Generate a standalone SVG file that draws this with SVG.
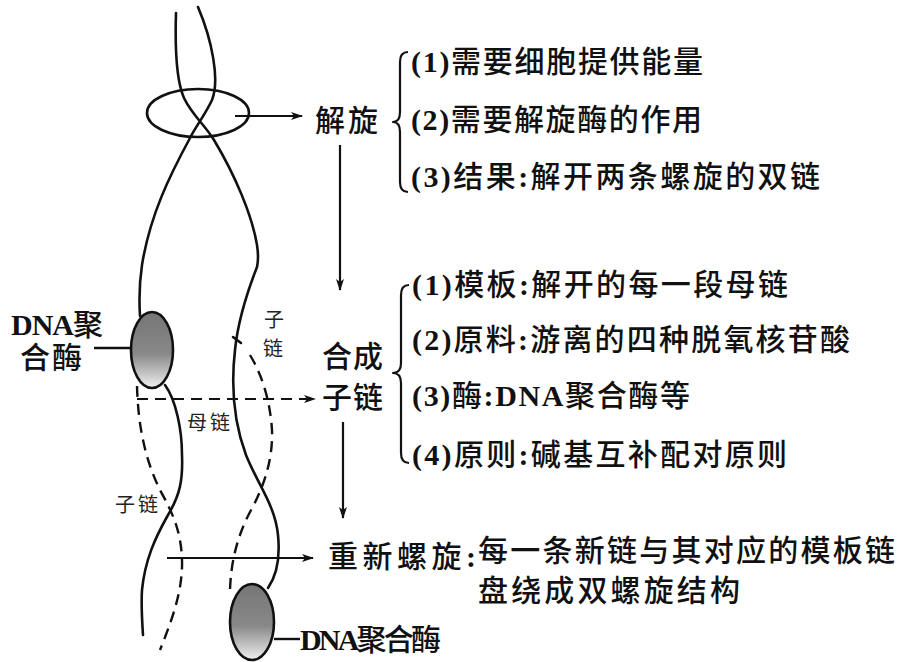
<svg xmlns="http://www.w3.org/2000/svg" width="902" height="662" viewBox="0 0 902 662">
  <defs>
    <linearGradient id="enzymeFill" x1="0" y1="0" x2="0" y2="1">
      <stop offset="0" stop-color="#767676"/>
      <stop offset="0.55" stop-color="#888888"/>
      <stop offset="1" stop-color="#f0f0f0"/>
    </linearGradient>
    <marker id="arrowHead" viewBox="0 0 12 8" refX="11" refY="4" markerWidth="12" markerHeight="8" markerUnits="userSpaceOnUse" orient="auto">
      <path d="M0,0 L12,4 L0,8 L3,4 z" fill="#111"/>
    </marker>
    <style>
      .strand { fill: none; stroke: #111; stroke-width: 2.6; stroke-linecap: round; }
      .daughter { fill: none; stroke: #111; stroke-width: 2.4; stroke-dasharray: 11 7; }
      .conn { fill: none; stroke: #111; stroke-width: 2.2; }
      .dashconn { fill: none; stroke: #111; stroke-width: 2.2; stroke-dasharray: 11 7; }
      .brace { fill: none; stroke: #111; stroke-width: 2.2; stroke-linejoin: round; }
      .enzyme { fill: url(#enzymeFill); stroke: #111; stroke-width: 2.6; }
      .t { font-family: "Liberation Serif", "Noto Sans CJK SC", serif; font-size: 30px; font-weight: 500; fill: #111; }
      .lat { font-weight: 700; }
      .small { font-family: "Noto Sans CJK SC", sans-serif; font-size: 20px; font-weight: 400; fill: #222; }
    </style>
  </defs>

  <!-- DNA strands -->
  <g id="helix">
    <!-- parental strand that ends at the upper polymerase -->
    <path class="strand" d="M198,7 C212,40 220,80 212,100 C205,115 196,126 190,138 C170,175 150,215 142,265 C139,285 139,300 140,316"/>
    <!-- same strand continuing below the upper polymerase -->
    <path class="strand" d="M165,385 C176,400 182,430 182,455 C183,480 180,495 168,515 C155,538 145,560 142,590 C141,605 142,620 143,635"/>
    <!-- parental strand that ends at the lower polymerase -->
    <path class="strand" d="M176,13 C175,45 176,80 184,98 C192,115 205,125 214,140 C235,175 252,215 257,245 C259,258 258,262 257,267 C248,290 238,320 235,350 C231,385 233,420 246,455 C258,485 275,505 278,535 C280,555 277,575 268,588"/>
    <!-- daughter strands -->
    <path class="daughter" d="M137,386 C138,420 143,455 160,490 C172,512 181,530 182,560 C183,590 172,620 160,650"/>
    <path class="daughter" d="M250,355 C262,375 270,400 272,430 C273,458 265,485 250,512 C238,535 231,560 230,590"/>
    <!-- start mark of the right daughter strand -->
    <path class="strand" d="M233,337 L241,343"/>
  </g>

  <!-- unwinding zone -->
  <g id="unwind-zone">
    <ellipse cx="198" cy="113" rx="51" ry="24" fill="none" stroke="#111" stroke-width="2.6"/>
  </g>

  <!-- DNA polymerase, upper -->
  <g id="polymerase-upper">
    <ellipse class="enzyme" cx="152" cy="350" rx="21" ry="38"/>
    <line x1="94" y1="348" x2="131" y2="348" stroke="#111" stroke-width="2.4"/>
    <text class="t" x="11" y="335" textLength="92" font-size="28"><tspan class="lat">DNA</tspan>聚</text>
    <text class="t" x="20" y="368" textLength="62" font-size="29">合酶</text>
  </g>

  <!-- DNA polymerase, lower -->
  <g id="polymerase-lower">
    <ellipse class="enzyme" cx="252" cy="622" rx="22" ry="38"/>
    <line x1="274" y1="639" x2="300" y2="639" stroke="#111" stroke-width="2.4"/>
    <text class="t" x="300" y="650" textLength="141" font-size="28"><tspan class="lat">DNA</tspan>聚合酶</text>
  </g>

  <!-- strand labels -->
  <g id="strand-labels">
    <text class="small" x="264" y="327">子</text>
    <text class="small" x="263" y="356">链</text>
    <text class="small" x="187" y="430" textLength="43">母链</text>
    <text class="small" x="115" y="512" textLength="43">子链</text>
  </g>

  <!-- unwinding -->
  <g id="unwinding">
    <text class="t" x="315" y="131" textLength="63">解旋</text>
    <path class="brace" d="M408,52 Q400,52 400,62 L400,112 Q400,122 393,122 Q400,122 400,132 L400,182 Q400,192 408,192"/>
    <text class="t" x="411" y="72" textLength="292"><tspan class="lat">(1)</tspan>需要细胞提供能量</text>
    <text class="t" x="411" y="130" textLength="291"><tspan class="lat">(2)</tspan>需要解旋酶的作用</text>
    <text class="t" x="411" y="187" textLength="409"><tspan class="lat">(3)</tspan>结果<tspan class="lat">:</tspan>解开两条螺旋的双链</text>
  </g>

  <!-- synthesis of daughter strands -->
  <g id="synthesis">
    <text class="t" x="322" y="367" textLength="61">合成</text>
    <text class="t" x="322" y="408" textLength="61">子链</text>
    <path class="brace" d="M409,285 Q401,285 401,295 L401,363 Q401,373 393,373 Q401,373 401,383 L401,453 Q401,463 409,463"/>
    <text class="t" x="412" y="295" textLength="376"><tspan class="lat">(1)</tspan>模板<tspan class="lat">:</tspan>解开的每一段母链</text>
    <text class="t" x="412" y="350" textLength="438"><tspan class="lat">(2)</tspan>原料<tspan class="lat">:</tspan>游离的四种脱氧核苷酸</text>
    <text class="t" x="412" y="406" textLength="278"><tspan class="lat">(3)</tspan>酶<tspan class="lat">:DNA</tspan>聚合酶等</text>
    <text class="t" x="412" y="465" textLength="375"><tspan class="lat">(4)</tspan>原则<tspan class="lat">:</tspan>碱基互补配对原则</text>
  </g>

  <!-- rewinding -->
  <g id="rewinding">
    <text class="t" x="328" y="567" textLength="148">重新螺旋<tspan class="lat">:</tspan></text>
    <text class="t" x="478" y="561" textLength="417">每一条新链与其对应的模板链</text>
    <text class="t" x="478" y="601" textLength="262">盘绕成双螺旋结构</text>
  </g>

  <!-- connectors -->
  <g id="connectors">
    <line class="conn" x1="235" y1="116" x2="302" y2="116" marker-end="url(#arrowHead)"/>
    <line class="conn" x1="340" y1="145" x2="340" y2="290" marker-end="url(#arrowHead)"/>
    <line class="dashconn" x1="137" y1="399" x2="315" y2="399" marker-end="url(#arrowHead)"/>
    <line class="conn" x1="343" y1="422" x2="343" y2="518" marker-end="url(#arrowHead)"/>
    <line class="conn" x1="167" y1="558" x2="313" y2="558" marker-end="url(#arrowHead)"/>
  </g>
</svg>
